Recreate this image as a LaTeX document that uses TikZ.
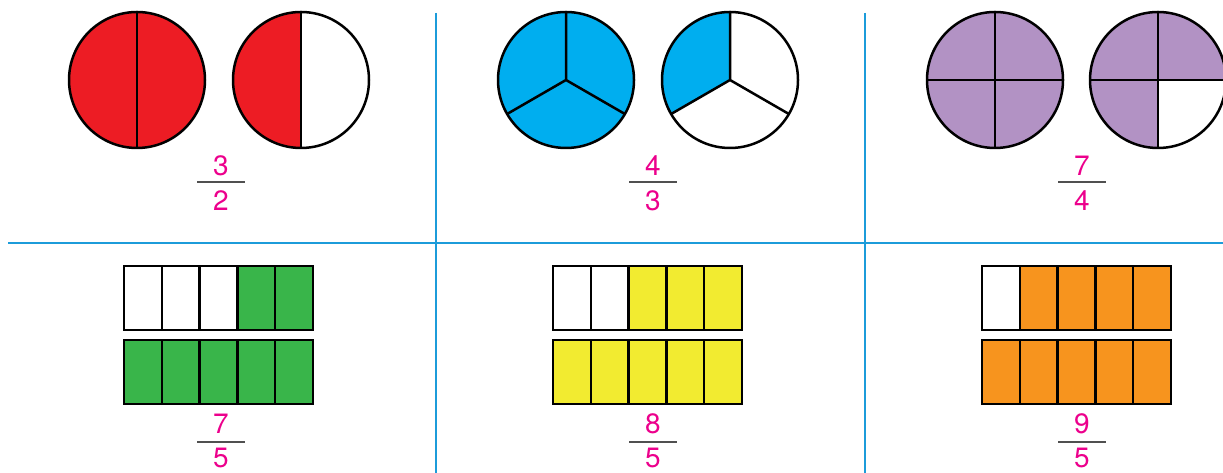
\documentclass[tikz,border=0pt]{standalone}
\usepackage{fontspec}
\setmainfont{TeX Gyre Heros}
\definecolor{gridblue}{RGB}{28,156,218}
\definecolor{cred}{RGB}{237,28,36}
\definecolor{cblue}{RGB}{0,174,239}
\definecolor{cpurple}{RGB}{178,146,196}
\definecolor{cgreen}{RGB}{57,181,74}
\definecolor{cyellow}{RGB}{242,235,48}
\definecolor{corange}{RGB}{247,148,30}
\definecolor{fmag}{RGB}{236,0,140}
\definecolor{fline}{RGB}{80,80,80}
\newcommand\barrow[4]{%
  \fill[#4] ({#1+#3*37.8},#2) rectangle ({#1+189},{#2-64});
  \draw[outl] (#1,#2) rectangle ++(189,-64);
  \foreach \k in {1,...,4} \draw[outl] ({#1+\k*37.8},#2) -- ++(0,-64);
}
\newcommand\myfrac[7]{% name, x, yline, dnum, dden, num, den
  \node[fnum] (#1n) at (#2,{#3+#4}) {#6};
  \node[fnum] (#1d) at (#2,{#3-#5}) {#7};
  \coordinate (#1a) at ({#2-24},#3);
  \coordinate (#1b) at ({#2+24},#3);
  \draw[fbar] (#1a) -- (#1b);
}
\begin{document}
\begin{tikzpicture}[x=1pt,y=1pt,
  outl/.style={draw=black,line width=2.5pt},
  gline/.style={draw=gridblue,line width=2.8pt},
  fnum/.style={text=fmag,font=\fontsize{28}{32}\selectfont,inner sep=0pt},
  fbar/.style={draw=fline,line width=1.3pt}]
\useasboundingbox (0,0) rectangle (1223,473);
\clip (0,0) rectangle (1223,473);
% grid lines
\coordinate (v1t) at (436,460); \coordinate (v1b) at (436,0);
\coordinate (v2t) at (865,460); \coordinate (v2b) at (865,0);
\coordinate (hl) at (8,230); \coordinate (hr) at (1223,230);
\draw[gline] (v1t) -- (v1b);
\draw[gline] (v2t) -- (v2b);
\draw[gline] (hl) -- (hr);
% red circles
\begin{scope}[shift={(137,393)}]
  \fill[cred] (0,0) circle (68);
  \draw[outl] (0,0) circle (68);
  \draw[outl] (0,68) -- (0,-68);
\end{scope}
\begin{scope}[shift={(301,393)}]
  \fill[cred] (0,68) arc (90:270:68) -- cycle;
  \draw[outl] (0,0) circle (68);
  \draw[outl] (0,68) -- (0,-68);
\end{scope}
% blue circles
\begin{scope}[shift={(566,393)}]
  \fill[cblue] (0,0) circle (68);
  \draw[outl] (0,0) circle (68);
  \draw[outl] (90:68) -- (0,0) -- (210:68) (0,0) -- (330:68);
\end{scope}
\begin{scope}[shift={(730,393)}]
  \fill[cblue] (0,0) -- (90:68) arc (90:210:68) -- cycle;
  \draw[outl] (0,0) circle (68);
  \draw[outl] (90:68) -- (0,0) -- (210:68) (0,0) -- (330:68);
\end{scope}
% purple circles
\begin{scope}[shift={(995,393)}]
  \fill[cpurple] (0,0) circle (68);
  \draw[outl] (0,0) circle (68);
  \draw[outl] (0,68) -- (0,-68) (-68,0) -- (68,0);
\end{scope}
\begin{scope}[shift={(1158,393)}]
  \fill[cpurple] (0,0) -- (0:68) arc (0:270:68) -- cycle;
  \draw[outl] (0,0) circle (68);
  \draw[outl] (0,68) -- (0,-68) (-68,0) -- (68,0);
\end{scope}
% top fractions
\myfrac{fa}{221}{291}{16}{19}{3}{2}
\myfrac{fb}{653}{291}{16}{19}{4}{3}
\myfrac{fc}{1082}{291}{16}{19}{7}{4}
% bars
\barrow{124}{207}{3}{cgreen}
\barrow{124}{133}{0}{cgreen}
\barrow{553}{207}{2}{cyellow}
\barrow{553}{133}{0}{cyellow}
\barrow{982}{207}{1}{corange}
\barrow{982}{133}{0}{corange}
% bottom fractions
\myfrac{fd}{221}{31}{18}{16}{7}{5}
\myfrac{fe}{653}{31}{18}{16}{8}{5}
\myfrac{ff}{1082}{31}{18}{16}{9}{5}
\end{tikzpicture}
\end{document}
